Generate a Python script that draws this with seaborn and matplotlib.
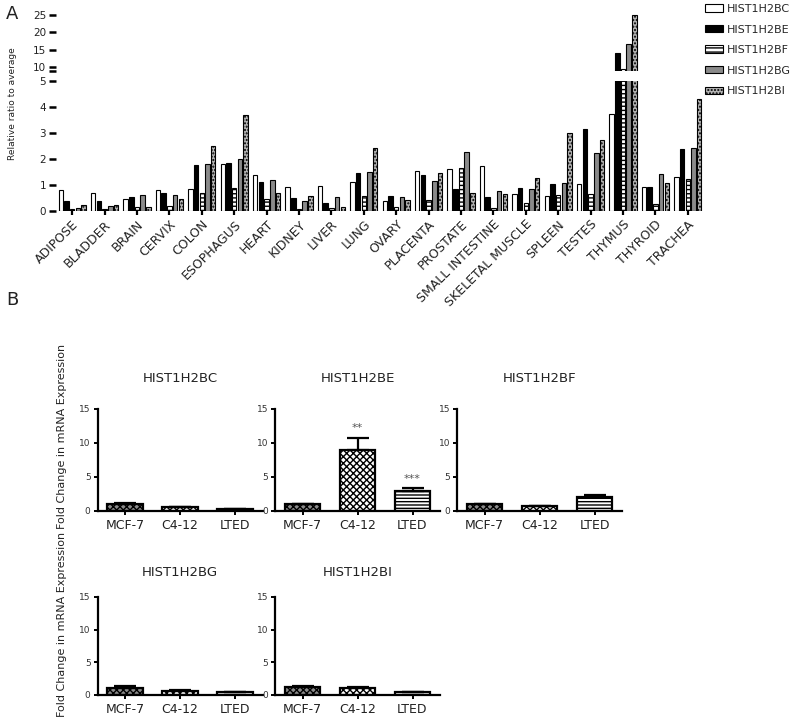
import numpy as np
import pandas as pd
import matplotlib
matplotlib.use("Agg")
import matplotlib.pyplot as plt
import seaborn as sns
from matplotlib.patches import Patch

# ---------------- data: panel A ----------------
tissues = ["ADIPOSE", "BLADDER", "BRAIN", "CERVIX", "COLON", "ESOPHAGUS", "HEART",
           "KIDNEY", "LIVER", "LUNG", "OVARY", "PLACENTA", "PROSTATE",
           "SMALL INTESTINE", "SKELETAL MUSCLE", "SPLEEN", "TESTES", "THYMUS",
           "THYROID", "TRACHEA"]
genes = ["HIST1H2BC", "HIST1H2BE", "HIST1H2BF", "HIST1H2BG", "HIST1H2BI"]
h2bc = [0.81, 0.68, 0.46, 0.79, 0.86, 1.79, 1.37, 0.92, 0.96, 1.10, 0.38, 1.53, 1.62, 1.74, 0.65, 0.58, 1.04, 3.73, 0.91, 1.31]
h2be = [0.40, 0.38, 0.53, 0.69, 1.77, 1.85, 1.10, 0.49, 0.29, 1.45, 0.59, 1.40, 0.86, 0.54, 0.90, 1.03, 3.14, 14.0, 0.91, 2.38]
h2bf = [0.06, 0.06, 0.17, 0.19, 0.68, 0.88, 0.45, 0.08, 0.10, 0.58, 0.17, 0.42, 1.64, 0.12, 0.29, 0.60, 0.65, 9.5, 0.27, 1.23]
h2bg = [0.10, 0.20, 0.62, 0.62, 1.79, 2.00, 1.18, 0.38, 0.54, 1.50, 0.54, 1.17, 2.27, 0.76, 0.85, 1.06, 2.23, 16.7, 1.42, 2.42]
h2bi = [0.24, 0.23, 0.14, 0.45, 2.50, 3.70, 0.69, 0.59, 0.15, 2.42, 0.42, 1.45, 0.69, 0.65, 1.27, 3.00, 2.72, 24.9, 1.09, 4.31]
lower_ticks = [0, 1, 2, 3, 4, 5]
upper_ticks = [10, 15, 20, 25]

# ---------------- data: panel B ----------------
cells = ["MCF-7", "C4-12", "LTED"]
b_mean_bc = [1.05, 0.55, 0.25]
b_err_bc = [0.2, 0.08, 0.03]
b_mean_be = [1.0, 9.0, 3.0]
b_err_be = [0.05, 1.8, 0.35]
b_mean_bf = [1.0, 0.75, 2.1]
b_err_bf = [0.05, 0.05, 0.27]
b_mean_bg = [1.05, 0.55, 0.45]
b_err_bg = [0.2, 0.12, 0.0]
b_mean_bi = [1.1, 0.95, 0.4]
b_err_bi = [0.15, 0.15, 0.0]
b_stars_be = ["", "**", "***"]
b_ticks = [0, 5, 10, 15]

# ---------------- styling ----------------
sns.set_theme(style="white")
plt.rcParams["font.family"] = ["DejaVu Sans"]
plt.rcParams["hatch.linewidth"] = 1.0

W, H = 800, 719
fig = plt.figure(figsize=(W / 100, H / 100), dpi=100)


def px_axes(x0, y0, x1, y1):
    return fig.add_axes([x0 / W, 1 - y1 / H, (x1 - x0) / W, (y1 - y0) / H])


dfA = pd.DataFrame({
    "tissue": np.repeat(tissues, len(genes)),
    "gene": np.tile(genes, len(tissues)),
    "value": np.ravel(np.column_stack([h2bc, h2be, h2bf, h2bg, h2bi])),
})

faces = ["white", "black", "white", "#8a8a8a", "#b4b4b4"]
hatches = [None, None, "----", None, "....."]

ax_up = px_axes(56, 10, 704, 71)
ax_lo = px_axes(56, 81, 704, 211)
for ax in (ax_up, ax_lo):
    sns.barplot(data=dfA, x="tissue", y="value", hue="gene", hue_order=genes,
                order=tissues, palette=faces, width=0.88, gap=0.2,
                errorbar=None, legend=False, ax=ax, edgecolor="black",
                linewidth=0.8)
    for cont, fc, ht in zip(ax.containers, faces, hatches):
        for p in cont:
            p.set_facecolor(fc)
            p.set_edgecolor("black")
            if ht:
                p.set_hatch(ht)
    ax.set_xlim(-0.5, len(tissues) - 0.5)
    for s in ax.spines.values():
        s.set_visible(False)
    ax.set_xlabel("")
    ax.set_ylabel("")

ax_lo.set_ylim(0, 5)
ax_lo.set_yticks(lower_ticks)
ax_lo.set_yticklabels([str(t) for t in lower_ticks])
ax_up.set_ylim(9.0, 26.4)
ax_up.set_yticks([9.0] + upper_ticks)
ax_up.set_yticklabels([""] + [str(t) for t in upper_ticks])
ax_up.set_xticks([])
for ax in (ax_up, ax_lo):
    ax.tick_params(axis="y", left=True, length=5, width=1.8, color="black",
                   labelsize=7.5, pad=2, labelcolor="#222222")
ax_lo.tick_params(axis="x", bottom=True, length=3, width=1.6, color="black",
                  labelsize=9, pad=2, labelcolor="#222222")
ax_lo.set_xticks(range(len(tissues)))
ax_lo.set_xticklabels(tissues, rotation=45, ha="right", rotation_mode="anchor")

handles = [Patch(facecolor=fc, edgecolor="black", hatch=ht, linewidth=0.8)
           for fc, ht in zip(faces, hatches)]
fig.legend(handles, genes, loc="upper left", bbox_to_anchor=(705 / W, 1 - 4 / H),
           frameon=False, fontsize=8, handlelength=1.6, handleheight=0.65,
           handletextpad=0.35, labelspacing=0.95, borderpad=0, borderaxespad=0)

fig.text(13 / W, 1 - 104 / H, "Relative ratio to average", rotation=90,
         ha="center", va="center", fontsize=6.5, color="#222222")
fig.text(12 / W, 1 - 14 / H, "A", ha="center", va="center", fontsize=13, color="#222222")
fig.text(12 / W, 1 - 300 / H, "B", ha="center", va="center", fontsize=13, color="#222222")

# ---------------- panel B ----------------
b_faces = ["#8c8c8c", "white", "white"]
b_hatches = ["xxxxx", "xxxxx", "-----"]

panels = [
    ("HIST1H2BC", b_mean_bc, b_err_bc, None, (97.5, 409, 262.5, 511), 19.5),
    ("HIST1H2BE", b_mean_be, b_err_be, b_stars_be, (275, 409, 440, 511), 19.5),
    ("HIST1H2BF", b_mean_bf, b_err_bf, None, (457, 409, 622, 511), 19.5),
    ("HIST1H2BG", b_mean_bg, b_err_bg, None, (97.5, 597, 262.5, 694.5), 15),
    ("HIST1H2BI", b_mean_bi, b_err_bi, None, (275, 597, 440, 694.5), 15),
]

for title, means, errs, stars, box, tpad in panels:
    ax = px_axes(*box)
    dfb = pd.DataFrame({"cell": cells, "value": means})
    sns.barplot(data=dfb, x="cell", y="value", order=cells, color="white",
                width=0.65, errorbar=None, ax=ax, edgecolor="black", linewidth=1.6)
    for p, fc, ht in zip(ax.patches, b_faces, b_hatches):
        p.set_facecolor(fc)
        p.set_hatch(ht)
        p.set_edgecolor("black")
    ax.errorbar(range(len(cells)), means, yerr=[np.zeros(len(errs)), errs],
                fmt="none", ecolor="black", elinewidth=1.6, capsize=8, capthick=1.6)
    if stars:
        for i, s in enumerate(stars):
            if s:
                ax.text(i, means[i] + errs[i] + 0.6, s, ha="center", va="bottom",
                        fontsize=8, color="#555555")
    ax.set_ylim(0, 15)
    ax.set_xlim(-0.5, 2.5)
    ax.set_yticks(b_ticks)
    ax.set_xlabel("")
    ax.set_ylabel("")
    sns.despine(ax=ax)
    for s in ("left", "bottom"):
        ax.spines[s].set_linewidth(1.6)
        ax.spines[s].set_color("black")
    ax.tick_params(axis="y", left=True, length=3, width=1.4, color="black",
                   labelsize=6.5, pad=2, labelcolor="#333333")
    ax.tick_params(axis="x", bottom=True, length=3, width=1.4, color="black",
                   labelsize=9, pad=3, labelcolor="#222222")
    ax.set_title(title, fontsize=9.5, color="#222222", pad=tpad)

fig.text(62 / W, 1 - 436 / H, "Fold Change in mRNA Expression", rotation=90,
         ha="center", va="center", fontsize=8, color="#222222")
fig.text(62 / W, 1 - 624 / H, "Fold Change in mRNA Expression", rotation=90,
         ha="center", va="center", fontsize=8, color="#222222")

fig.savefig("out.png", dpi=100)
